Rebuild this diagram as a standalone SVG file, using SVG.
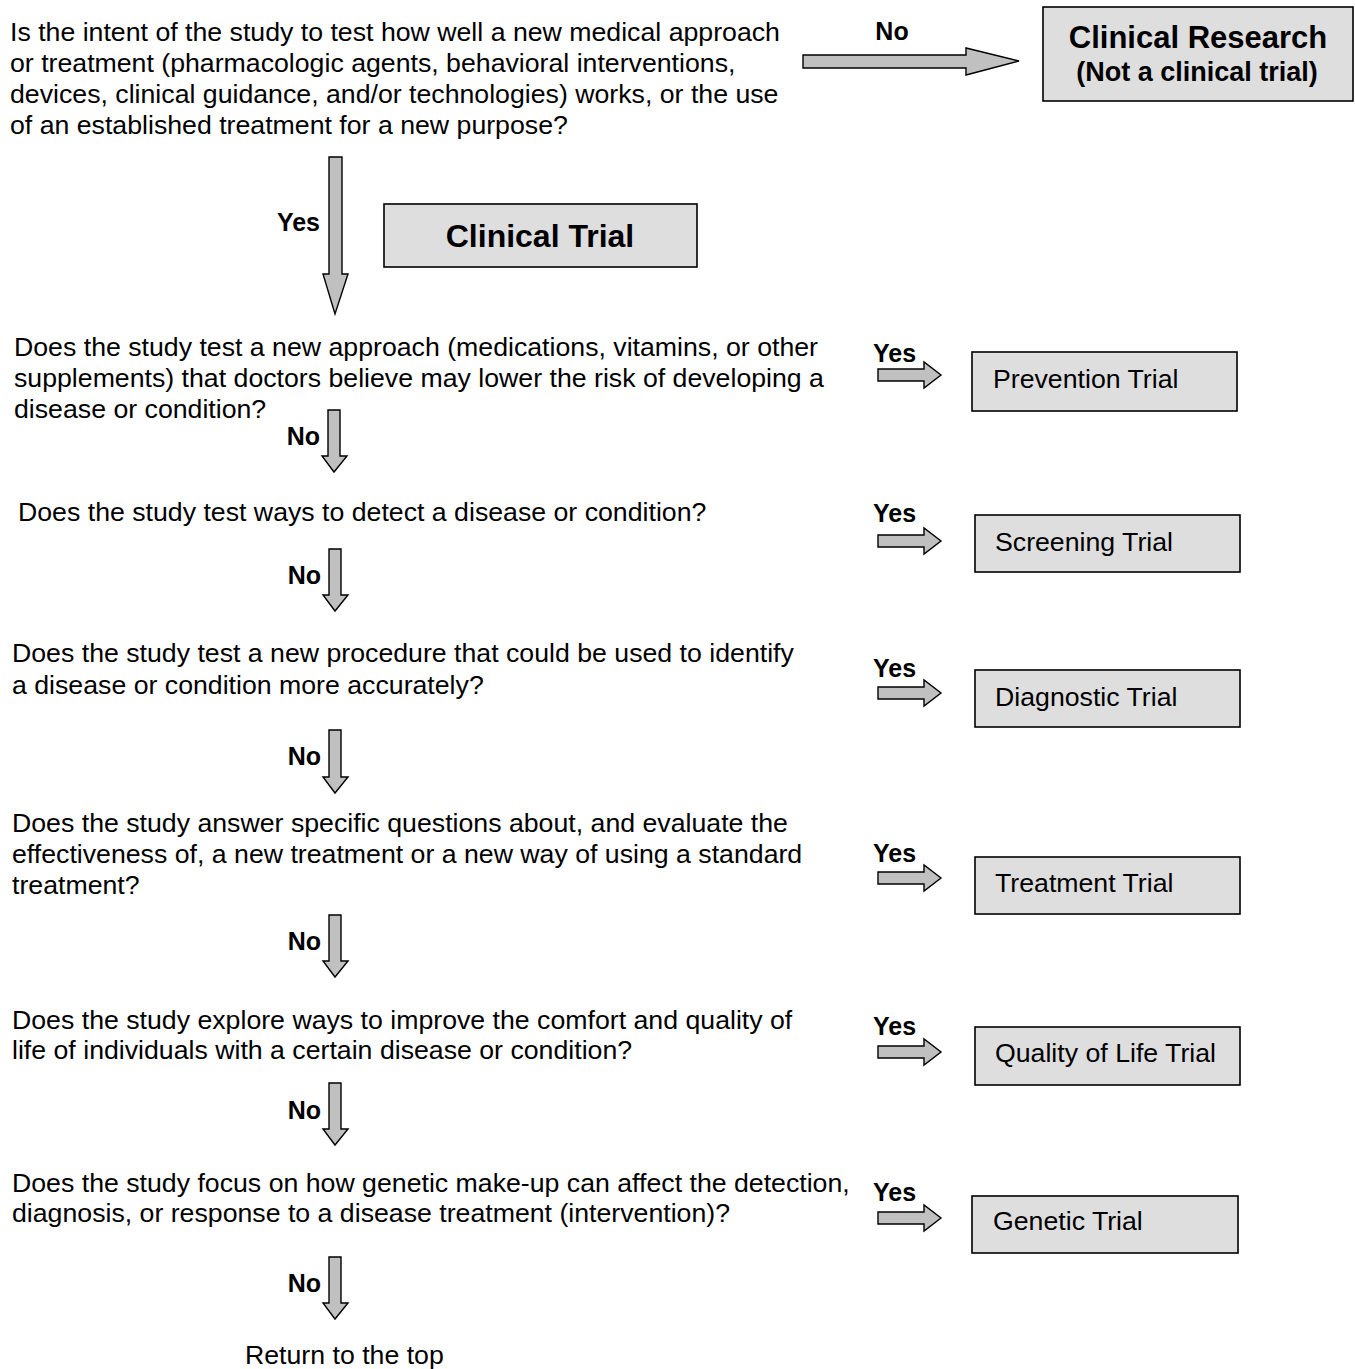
<svg xmlns="http://www.w3.org/2000/svg" width="1355" height="1369" viewBox="0 0 1355 1369">
<style>
text{font-family:"Liberation Sans",Arial,sans-serif;fill:#000}
.q{font-size:26.7px}
.lbl{font-size:25px;font-weight:bold}
.bt{font-size:26.7px}
.box{fill:#dedede;stroke:#000;stroke-width:1.6}
.arr{fill:#c0c0c0;stroke:#000;stroke-width:1.4;stroke-linejoin:miter}
</style>
<rect width="1355" height="1369" fill="#fff"/>

<g id="q1">
<text class="q" x="10" y="41">Is the intent of the study to test how well a new medical approach</text>
<text class="q" x="10" y="72">or treatment (pharmacologic agents, behavioral interventions,</text>
<text class="q" x="10" y="103">devices, clinical guidance, and/or technologies) works, or the use</text>
<text class="q" x="10" y="134">of an established treatment for a new purpose?</text>
</g>
<g id="clinical-research">
<rect class="box" x="1043" y="7" width="310" height="94"/>
<text x="1198" y="48" text-anchor="middle" style="font-size:31px;font-weight:bold">Clinical Research</text>
<text x="1197" y="81" text-anchor="middle" style="font-size:27px;font-weight:bold">(Not a clinical trial)</text>
</g>
<g id="clinical-trial">
<rect class="box" x="384" y="204" width="313" height="63"/>
<text x="540" y="247" text-anchor="middle" style="font-size:32px;font-weight:bold">Clinical Trial</text>
</g>

<g id="q2">
<text class="q" x="14" y="356">Does the study test a new approach (medications, vitamins, or other</text>
<text class="q" x="14" y="387">supplements) that doctors believe may lower the risk of developing a</text>
<text class="q" x="14" y="418">disease or condition?</text>
</g>
<g id="prevention">
<rect class="box" x="972" y="352" width="265" height="59"/>
<text class="bt" x="993" y="388">Prevention Trial</text>
</g>

<g id="q3">
<text class="q" x="18" y="521">Does the study test ways to detect a disease or condition?</text>
</g>
<g id="screening">
<rect class="box" x="975" y="515" width="265" height="57"/>
<text class="bt" x="995" y="551">Screening Trial</text>
</g>

<g id="q4">
<text class="q" x="12" y="662">Does the study test a new procedure that could be used to identify</text>
<text class="q" x="12" y="694">a disease or condition more accurately?</text>
</g>
<g id="diagnostic">
<rect class="box" x="975" y="670" width="265" height="57"/>
<text class="bt" x="995" y="706">Diagnostic Trial</text>
</g>

<g id="q5">
<text class="q" x="12" y="832">Does the study answer specific questions about, and evaluate the</text>
<text class="q" x="12" y="863">effectiveness of, a new treatment or a new way of using a standard</text>
<text class="q" x="12" y="894">treatment?</text>
</g>
<g id="treatment">
<rect class="box" x="975" y="857" width="265" height="57"/>
<text class="bt" x="995" y="892">Treatment Trial</text>
</g>

<g id="q6">
<text class="q" x="12" y="1029">Does the study explore ways to improve the comfort and quality of</text>
<text class="q" x="12" y="1059">life of individuals with a certain disease or condition?</text>
</g>
<g id="quality">
<rect class="box" x="975" y="1027" width="265" height="58"/>
<text class="bt" x="995" y="1062">Quality of Life Trial</text>
</g>

<g id="q7">
<text class="q" x="12" y="1192">Does the study focus on how genetic make-up can affect the detection,</text>
<text class="q" x="12" y="1222">diagnosis, or response to a disease treatment (intervention)?</text>
</g>
<g id="genetic">
<rect class="box" x="972" y="1196" width="266" height="57"/>
<text class="bt" x="993" y="1230">Genetic Trial</text>
</g>

<g id="return">
<text class="q" x="245" y="1364">Return to the top</text>
</g>

<g id="connectors">
<path class="arr" d="M803,55 L966,55 L966,48 L1019,61 L966,75 L966,68 L803,68 Z"/>
<text class="lbl" x="892" y="40" text-anchor="middle">No</text>

<path class="arr" d="M329,157 L342,157 L342,274 L348,274 L335,314 L323,274 L329,274 Z"/>
<text class="lbl" x="320" y="231" text-anchor="end">Yes</text>

<g id="no-arrows">
<path class="arr" d="M328,410 L340,410 L340,456 L347,456 L334,472 L322,456 L328,456 Z"/>
<text class="lbl" x="320" y="445" text-anchor="end">No</text>
<path class="arr" d="M329,549 L341,549 L341,595 L348,595 L335,611 L323,595 L329,595 Z"/>
<text class="lbl" x="321" y="584" text-anchor="end">No</text>
<path class="arr" d="M329,730 L341,730 L341,777 L348,777 L335,793 L323,777 L329,777 Z"/>
<text class="lbl" x="321" y="765" text-anchor="end">No</text>
<path class="arr" d="M329,915 L341,915 L341,961 L348,961 L335,977 L323,961 L329,961 Z"/>
<text class="lbl" x="321" y="950" text-anchor="end">No</text>
<path class="arr" d="M329,1083 L341,1083 L341,1129 L348,1129 L335,1145 L323,1129 L329,1129 Z"/>
<text class="lbl" x="321" y="1119" text-anchor="end">No</text>
<path class="arr" d="M329,1257 L341,1257 L341,1303 L348,1303 L335,1319 L323,1303 L329,1303 Z"/>
<text class="lbl" x="321" y="1292" text-anchor="end">No</text>
</g>

<g id="yes-arrows">
<path class="arr" d="M878,369 L924,369 L924,362 L941,375 L924,388 L924,381 L878,381 Z"/>
<text class="lbl" x="873" y="362">Yes</text>
<path class="arr" d="M878,535 L924,535 L924,528 L941,541 L924,554 L924,547 L878,547 Z"/>
<text class="lbl" x="873" y="522">Yes</text>
<path class="arr" d="M878,687 L924,687 L924,680 L941,693 L924,706 L924,699 L878,699 Z"/>
<text class="lbl" x="873" y="677">Yes</text>
<path class="arr" d="M878,872 L924,872 L924,865 L941,878 L924,891 L924,884 L878,884 Z"/>
<text class="lbl" x="873" y="862">Yes</text>
<path class="arr" d="M878,1046 L924,1046 L924,1039 L941,1052 L924,1065 L924,1058 L878,1058 Z"/>
<text class="lbl" x="873" y="1035">Yes</text>
<path class="arr" d="M878,1212 L924,1212 L924,1205 L941,1218 L924,1231 L924,1224 L878,1224 Z"/>
<text class="lbl" x="873" y="1201">Yes</text>
</g>
</g>
</svg>
